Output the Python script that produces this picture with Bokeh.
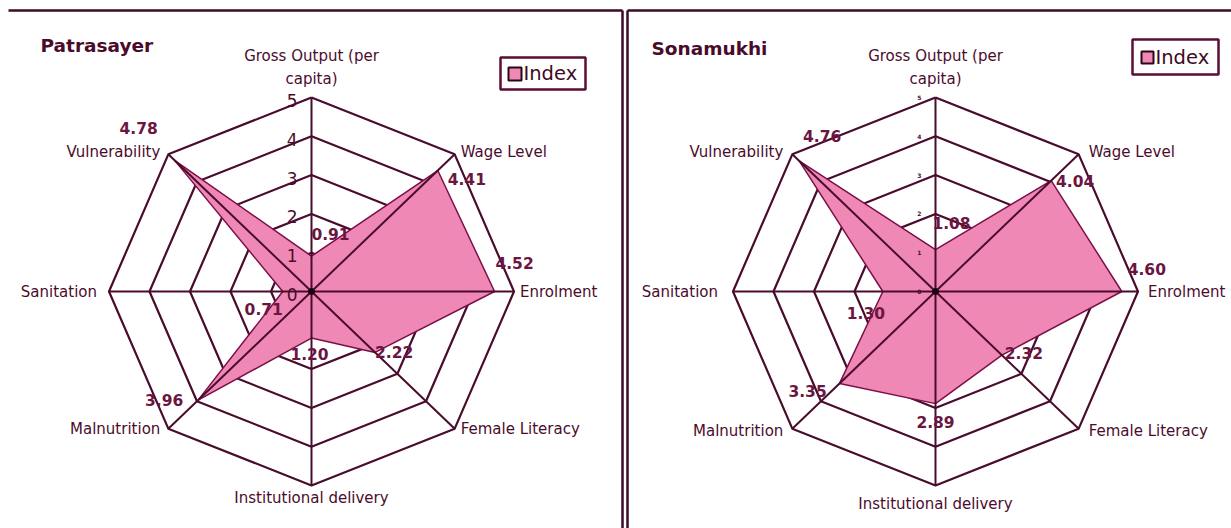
from bokeh.plotting import figure
from bokeh.layouts import row
from bokeh.models import Range1d, ColumnDataSource
from bokeh.core.properties import value
from bokeh.embed import file_html
from bokeh.resources import INLINE
import numpy as np

# ---------------- data ----------------
categories = ["Gross Output (per\ncapita)", "Wage Level", "Enrolment", "Female Literacy",
              "Institutional delivery", "Malnutrition", "Sanitation", "Vulnerability"]
patrasayer_index = [0.91, 4.41, 4.52, 2.22, 1.20, 3.96, 0.71, 4.78]
sonamukhi_index = [1.08, 4.04, 4.60, 2.32, 2.89, 3.35, 1.30, 4.76]
tick_values = [0, 1, 2, 3, 4, 5]
tick_labels = ["0", "1", "2", "3", "4", "5"]
series_name = "Index"

# ---------------- style ----------------
SX, SY = 40.5, 38.8          # px per index unit (horizontal / vertical)
CY_PAGE = 291
PAGE_TOP, PAGE_BOT = 0, 528
GRID = "#4a0c2c"
FILL = "#f088b5"
EDGE = "#7a1048"
LABEL = "#6b1541"
CAT = "#4b0c2c"
FRAME = "#3b0a24"
FONT = value("DejaVu Sans")

# label offsets (px) for the value labels
p_off = [(19, -22), (29, 8), (20, -29), (19, 0), (-2, 16), (-34, 0), (-19, 17), (-36, -32)]
s_off = [(16, -27), (24, 0), (25, -23), (22, -2), (0, 18), (-32, 8), (-17, 21), (23, -25)]

# category label offsets / alignment
cat_left = [(0, -9, "center", "bottom"), (6, -2, "left", "middle"), (6, 0, "left", "middle"),
            (6, 0, "left", "middle"), (0, 12, "center", "middle"), (-8, 0, "right", "middle"),
            (-12, 0, "right", "middle"), (-8, -2, "right", "middle")]
cat_right = [(0, -9, "center", "bottom"), (10, -2, "left", "middle"), (10, 0, "left", "middle"),
             (10, 2, "left", "middle"), (0, 18, "center", "middle"), (-9, 2, "right", "middle"),
             (-15, 0, "right", "middle"), (-9, -2, "right", "middle")]

angles = np.arange(len(categories)) * 2 * np.pi / len(categories)
dx = np.sin(angles)
dy = np.cos(angles)


def make_panel(title, vals, start, width, cx, offs, cats, tick_size, tick_bold,
               legend_box, legend_marker, legend_text, frame_lines):
    def P(px, py):
        return (px - cx) / SX, (CY_PAGE - py) / SY

    p = figure(width=width, height=PAGE_BOT - PAGE_TOP,
               x_range=Range1d((start - cx) / SX, (start + width - cx) / SX),
               y_range=Range1d((CY_PAGE - PAGE_BOT) / SY, (CY_PAGE - PAGE_TOP) / SY),
               output_backend="svg", toolbar_location=None,
               x_axis_type=None, y_axis_type=None, min_border=0)
    p.grid.visible = False
    p.outline_line_color = None
    p.background_fill_color = "white"

    # rings
    for t in tick_values[1:]:
        xs = list(dx * t) + [dx[0] * t]
        ys = list(dy * t) + [dy[0] * t]
        p.line(xs, ys, line_color=GRID, line_width=2.2)

    # series polygon
    v = np.array(vals)
    p.patch(list(dx * v), list(dy * v), fill_color=FILL, line_color=EDGE, line_width=1.5)

    # spokes
    top = tick_values[-1]
    p.multi_line([[0, dx[i] * top] for i in range(len(categories))],
                 [[0, dy[i] * top] for i in range(len(categories))],
                 line_color=GRID, line_width=2)
    p.scatter([0], [0], size=6, color="#1a0510")

    # tick labels
    p.text(x=[0] * len(tick_values), y=tick_values, text=tick_labels,
           x_offset=-14, y_offset=3 if tick_size > 10 else 0,
           text_align="right", text_baseline="middle",
           text_font=FONT, text_font_size=f"{tick_size}px",
           text_font_style="bold" if tick_bold else "normal", text_color=CAT)

    # value labels
    src = ColumnDataSource(dict(x=dx * v, y=dy * v, t=[f"{a:.2f}" for a in vals],
                                xo=[o[0] for o in offs], yo=[o[1] for o in offs]))
    p.text(x="x", y="y", text="t", x_offset="xo", y_offset="yo", source=src,
           text_align="center", text_baseline="middle", text_font=FONT,
           text_font_size="15.5px", text_font_style="bold", text_color=LABEL)

    # category labels
    for i, name in enumerate(categories):
        ox, oy, al, bl = cats[i]
        p.text(x=[dx[i] * top], y=[dy[i] * top], text=[name], x_offset=ox, y_offset=oy,
               text_align=al, text_baseline=bl, text_font=FONT, text_font_size="15px",
               text_color=CAT, text_line_height=1.3)

    # title
    tx, ty = P(*title[1])
    p.text(x=[tx], y=[ty], text=[title[0]], text_align="left", text_baseline="middle",
           text_font=FONT, text_font_size="18.5px", text_font_style="bold", text_color="#4a0a2a")

    # legend
    (bx0, by0, bx1, by1) = legend_box
    x0, y0 = P(bx0, by0)
    x1, y1 = P(bx1, by1)
    p.quad(left=x0, right=x1, top=y0, bottom=y1, fill_color="white",
           line_color="#5a0d35", line_width=2.5)
    (mx0, my0, mx1, my1) = legend_marker
    x0, y0 = P(mx0, my0)
    x1, y1 = P(mx1, my1)
    p.quad(left=x0, right=x1, top=y0, bottom=y1, fill_color=FILL,
           line_color="#2a0718", line_width=2)
    lx, ly = P(*legend_text)
    p.text(x=[lx], y=[ly], text=[series_name], text_align="left", text_baseline="middle",
           text_font=FONT, text_font_size="19.5px", text_color="#3c0a24")

    # panel frame
    for (ax, ay, bx, by) in frame_lines:
        x0, y0 = P(ax, ay)
        x1, y1 = P(bx, by)
        p.line([x0, x1], [y0, y1], line_color=FRAME, line_width=2.5)
    return p


left = make_panel(("Patrasayer", (40, 45)), patrasayer_index, 0, 624, 311, p_off, cat_left,
                  17, False, (500, 57, 585, 89), (508, 67, 521, 80), (523, 73),
                  [(8, 10, 622, 10), (622, 10, 622, 528)])
right = make_panel(("Sonamukhi", (651, 48)), sonamukhi_index, 624, 607, 935, s_off, cat_right,
                   6, True, (1132, 39, 1218, 74), (1141, 51, 1153, 63), (1155, 57),
                   [(627, 10, 1231, 10), (627, 10, 627, 528)])

layout = row(left, right, spacing=0)
open("out.html", "w").write(file_html(layout, INLINE))
